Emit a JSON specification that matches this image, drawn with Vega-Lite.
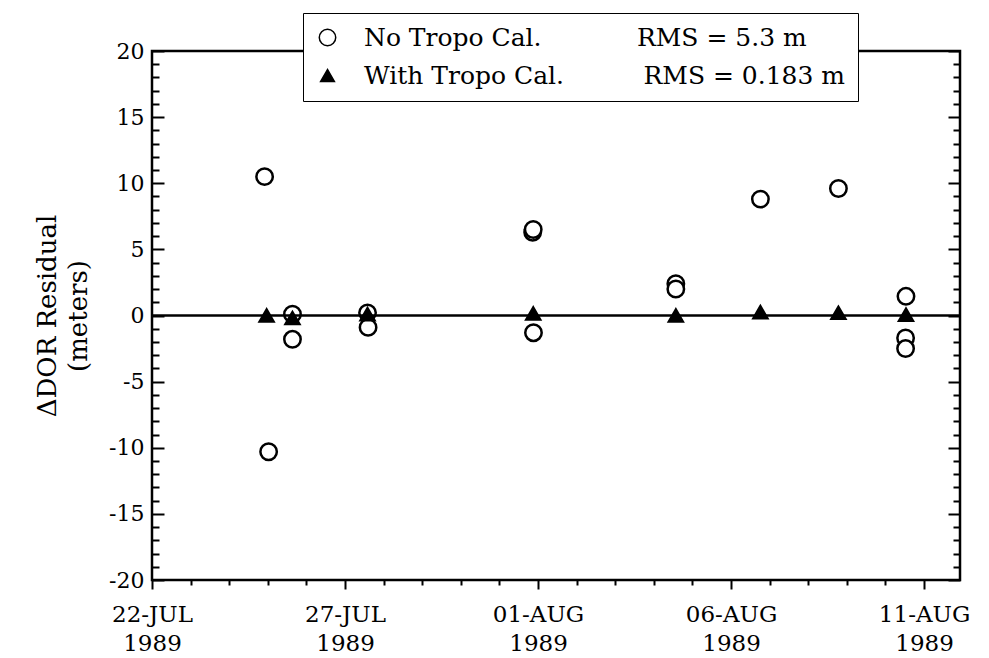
{
  "$schema": "https://vega.github.io/schema/vega-lite/v6.json",
  "width": 808,
  "height": 529,
  "autosize": {"type": "none"},
  "padding": {"left": 152, "top": 51, "right": 29, "bottom": 78},
  "background": "white",
  "config": {
    "font": "DejaVu Serif",
    "view": {"stroke": "black", "strokeWidth": 2.5},
    "axis": {"domain": false, "grid": false, "labelFont": "DejaVu Serif", "labelColor": "black", "titleColor": "black", "tickColor": "black", "tickWidth": 2},
    "legend": {
      "title": null, "orient": "none", "legendX": 151, "legendY": -38, "direction": "vertical",
      "strokeColor": "black", "fillColor": "white", "padding": 12,
      "labelFont": "DejaVu Serif", "labelFontSize": 25, "labelColor": "black", "labelLimit": 1000, "labelOffset": 24,
      "rowPadding": 12
    }
  },
  "layer": [
    {
      "data": {"values": [
        {"date": "1989-07-24T22:00", "value": 10.5, "series": "No"},
        {"date": "1989-07-25T00:30", "value": -10.3, "series": "No"},
        {"date": "1989-07-25T15:20", "value": 0.1, "series": "No"},
        {"date": "1989-07-25T15:20", "value": -1.8, "series": "No"},
        {"date": "1989-07-27T14:00", "value": 0.2, "series": "No"},
        {"date": "1989-07-27T14:20", "value": -0.9, "series": "No"},
        {"date": "1989-07-31T20:40", "value": 6.3, "series": "No"},
        {"date": "1989-07-31T21:00", "value": 6.5, "series": "No"},
        {"date": "1989-07-31T21:10", "value": -1.3, "series": "No"},
        {"date": "1989-08-04T13:40", "value": 2.4, "series": "No"},
        {"date": "1989-08-04T13:40", "value": 2.0, "series": "No"},
        {"date": "1989-08-06T18:15", "value": 8.8, "series": "No"},
        {"date": "1989-08-08T18:45", "value": 9.6, "series": "No"},
        {"date": "1989-08-10T12:45", "value": 1.45, "series": "No"},
        {"date": "1989-08-10T12:30", "value": -1.7, "series": "No"},
        {"date": "1989-08-10T12:30", "value": -2.5, "series": "No"},
        {"date": "1989-07-24T23:15", "value": 0.0, "series": "With"},
        {"date": "1989-07-25T15:20", "value": -0.2, "series": "With"},
        {"date": "1989-07-27T14:00", "value": 0.1, "series": "With"},
        {"date": "1989-07-31T21:00", "value": 0.15, "series": "With"},
        {"date": "1989-08-04T13:40", "value": 0.0, "series": "With"},
        {"date": "1989-08-06T18:15", "value": 0.25, "series": "With"},
        {"date": "1989-08-08T18:45", "value": 0.2, "series": "With"},
        {"date": "1989-08-10T12:45", "value": 0.05, "series": "With"}
      ]},
      "mark": {"type": "point", "filled": true, "stroke": "black", "strokeWidth": 2.5, "opacity": 1},
      "encoding": {
        "x": {
          "field": "date", "type": "temporal",
          "scale": {"nice": false, "domain": [{"year": 1989, "month": 7, "date": 22}, {"year": 1989, "month": 8, "date": 11, "hours": 22, "minutes": 20}]},
          "axis": {
            "title": null,
            "values": [
              {"year": 1989, "month": 7, "date": 22}, {"year": 1989, "month": 7, "date": 23}, {"year": 1989, "month": 7, "date": 24},
              {"year": 1989, "month": 7, "date": 25}, {"year": 1989, "month": 7, "date": 26}, {"year": 1989, "month": 7, "date": 27},
              {"year": 1989, "month": 7, "date": 28}, {"year": 1989, "month": 7, "date": 29}, {"year": 1989, "month": 7, "date": 30},
              {"year": 1989, "month": 7, "date": 31}, {"year": 1989, "month": 8, "date": 1}, {"year": 1989, "month": 8, "date": 2},
              {"year": 1989, "month": 8, "date": 3}, {"year": 1989, "month": 8, "date": 4}, {"year": 1989, "month": 8, "date": 5},
              {"year": 1989, "month": 8, "date": 6}, {"year": 1989, "month": 8, "date": 7}, {"year": 1989, "month": 8, "date": 8},
              {"year": 1989, "month": 8, "date": 9}, {"year": 1989, "month": 8, "date": 10}, {"year": 1989, "month": 8, "date": 11}
            ],
            "labelExpr": "round((datum.value - datetime(1989,6,22))/86400000) % 5 == 0 ? [upper(timeFormat(datum.value,'%d-%b')), '1989'] : ''",
            "tickSize": {"condition": {"test": "round((datum.value - datetime(1989,6,22))/86400000) % 5 == 0", "value": 9}, "value": 5},
            "labelFontSize": 23,
            "labelLineHeight": 29,
            "labelPadding": 14,
            "labelFlush": false,
            "labelOverlap": false
          }
        },
        "y": {
          "field": "value", "type": "quantitative",
          "scale": {"domain": [-20, 20], "nice": false},
          "axis": {
            "values": [-20,-19,-18,-17,-16,-15,-14,-13,-12,-11,-10,-9,-8,-7,-6,-5,-4,-3,-2,-1,0,1,2,3,4,5,6,7,8,9,10,11,12,13,14,15,16,17,18,19,20],
            "labelExpr": "datum.value % 5 == 0 ? replace(datum.label, '\u2212', '-') : ''",
            "tickSize": {"condition": {"test": "datum.value % 5 == 0", "value": -12}, "value": -7},
            "labelFontSize": 22,
            "labelPadding": 20,
            "labelOverlap": false,
            "title": ["\u0394DOR Residual", "(meters)"],
            "titleFont": "DejaVu Serif",
            "titleFontSize": 26,
            "titleFontWeight": "normal",
            "titleLineHeight": 31,
            "titlePadding": 17
          }
        },
        "shape": {
          "field": "series", "type": "nominal",
          "scale": {"domain": ["No", "With"], "range": ["circle", "triangle-up"]},
          "legend": {
            "labelExpr": "datum.label == 'No' ? 'No Tropo Cal.\u00a0\u00a0\u00a0\u00a0\u00a0\u00a0\u00a0\u00a0\u00a0\u00a0\u00a0\u00a0RMS = 5.3 m' : 'With Tropo Cal.\u00a0\u00a0\u00a0\u00a0\u00a0\u00a0\u00a0\u00a0\u00a0\u00a0RMS = 0.183 m'",
            "encode": {"legend": {"strokeWidth": {"value": 2}}, "symbols": {"stroke": {"value": "black"}, "strokeWidth": {"value": 2.5}, "size": {"value": 120}}}
          }
        },
        "fill": {
          "field": "series", "type": "nominal",
          "scale": {"domain": ["No", "With"], "range": ["white", "black"]},
          "legend": {
            "labelExpr": "datum.label == 'No' ? 'No Tropo Cal.\u00a0\u00a0\u00a0\u00a0\u00a0\u00a0\u00a0\u00a0\u00a0\u00a0\u00a0\u00a0RMS = 5.3 m' : 'With Tropo Cal.\u00a0\u00a0\u00a0\u00a0\u00a0\u00a0\u00a0\u00a0\u00a0\u00a0RMS = 0.183 m'",
            "encode": {"legend": {"strokeWidth": {"value": 2}}, "symbols": {"stroke": {"value": "black"}, "strokeWidth": {"value": 2.5}, "size": {"value": 120}}}
          }
        },
        "size": {
          "field": "series", "type": "nominal",
          "scale": {"domain": ["No", "With"], "range": [270, 190]},
          "legend": {
            "labelExpr": "datum.label == 'No' ? 'No Tropo Cal.\u00a0\u00a0\u00a0\u00a0\u00a0\u00a0\u00a0\u00a0\u00a0\u00a0\u00a0\u00a0RMS = 5.3 m' : 'With Tropo Cal.\u00a0\u00a0\u00a0\u00a0\u00a0\u00a0\u00a0\u00a0\u00a0\u00a0RMS = 0.183 m'",
            "encode": {"legend": {"strokeWidth": {"value": 2}}, "symbols": {"stroke": {"value": "black"}, "strokeWidth": {"value": 2.5}, "size": {"value": 120}}}
          }
        }
      }
    },
    {
      "data": {"values": [{"value": 0}]},
      "mark": {"type": "rule", "color": "black", "strokeWidth": 2.5},
      "encoding": {
        "y": {
          "field": "value", "type": "quantitative",
          "axis": {
            "orient": "right",
            "values": [-20,-19,-18,-17,-16,-15,-14,-13,-12,-11,-10,-9,-8,-7,-6,-5,-4,-3,-2,-1,0,1,2,3,4,5,6,7,8,9,10,11,12,13,14,15,16,17,18,19,20],
            "labels": false,
            "title": null,
            "tickSize": {"condition": {"test": "datum.value % 5 == 0", "value": -12}, "value": -7}
          }
        }
      }
    }
  ],
  "resolve": {"axis": {"y": "independent"}}
}
